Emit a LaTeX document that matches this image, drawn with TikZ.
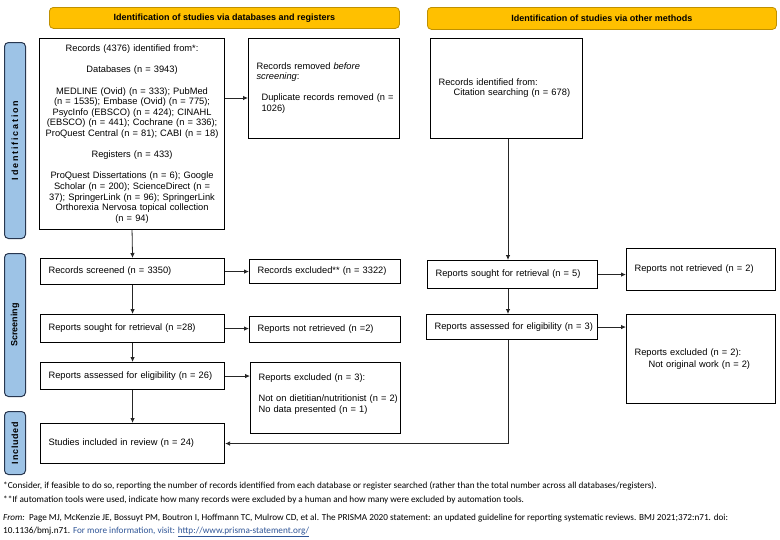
\documentclass[tikz,border=0pt]{standalone}
\usepackage{fontspec}
\setmainfont{Liberation Sans}
\newfontfamily\arialf{Liberation Sans}
\newfontfamily\arialwide[LetterSpace=20]{Liberation Sans}
\newfontfamily\arialmid[LetterSpace=8]{Liberation Sans}
\newfontfamily\calf{Carlito}
\usetikzlibrary{arrows.meta,calc}
\definecolor{gold}{RGB}{255,192,0}
\definecolor{goldline}{RGB}{191,144,0}
\definecolor{sideblue}{RGB}{157,195,230}
\definecolor{sideline}{RGB}{40,55,80}
\definecolor{linkblue}{RGB}{46,84,150}
\tikzset{
  boxnode/.style={draw=black, line width=1.1pt, anchor=north west, inner xsep=8pt, inner ysep=0pt,
    font=\arialf\fontsize{9.3}{10.6}\selectfont, align=left},
  banner/.style={draw=goldline, fill=gold, line width=0.8pt, rounded corners=4pt, anchor=north west,
    inner sep=0pt, font=\arialf\bfseries\fontsize{9}{10}\selectfont},
  sidelab/.style={draw=sideline, fill=sideblue, line width=1pt, rounded corners=4pt, anchor=north west,
    inner sep=0pt, minimum width=21pt},
  sidetext/.style={rotate=90, font=\bfseries\fontsize{9}{10}\selectfont},
  arr/.style={line width=0.8pt, draw=black!85, -{Latex[length=5pt,width=4.5pt]}},
  foot/.style={anchor=west, inner sep=0pt, font=\calf\fontsize{9.2}{10.5}\selectfont}
}
\begin{document}
\begin{tikzpicture}[x=1pt,y=-1pt]
\useasboundingbox (0,0) rectangle (780,539);
% banners
\node[banner, minimum width=350pt, minimum height=21pt] (banL) at (49,7) {Identification of studies via databases and registers};
\node[banner, minimum width=349pt, minimum height=22pt] (banR) at (427,7) {Identification of studies via other methods};
% side labels
\node[sidelab, minimum height=196pt] (sideI) at (4,42) {};
\node[sidetext] (sideIt) at (sideI.center) {\arialwide\bfseries Identification};
\node[sidelab, minimum height=143pt] (sideS) at (4,253) {};
\node[sidetext] (sideSt) at (sideS.center) {\arialf\bfseries Screening};
\node[sidelab, minimum height=63pt] (sideC) at (4,411) {};
\node[sidetext] (sideCt) at (sideC.center) {\arialmid\bfseries Included};
% left column
\node[boxnode, align=center, inner xsep=2pt, text width=181pt, minimum height=191pt] (rec) at (39,38)
 {Records (4376) identified from*:\\[10.6pt]
  Databases (n = 3943)\\[10.6pt]
  MEDLINE (Ovid) (n = 333); PubMed\\
  (n = 1535); Embase (Ovid) (n = 775);\\
  PsycInfo (EBSCO) (n = 424); CINAHL\\
  (EBSCO) (n = 441); Cochrane (n = 336);\\
  ProQuest Central (n = 81); CABI (n = 18)\\[10.6pt]
  Registers (n = 433)\\[10.6pt]
  ProQuest Dissertations (n = 6); Google\\
  Scholar (n = 200); ScienceDirect (n =\\
  37); SpringerLink (n = 96); SpringerLink\\
  Orthorexia Nervosa topical collection\\
  (n = 94)};
\node[boxnode, text width=135pt, minimum height=100pt] (removed) at (248,38)
 {\mbox{}\\[-5pt]Records removed \textit{before}\\
  \textit{screening}:\\[10.6pt]
  \hspace*{5pt}\mbox{Duplicate records removed (n =}\\
  \hspace*{5pt}1026)};
\node[boxnode, text width=168pt, minimum height=26pt] (screened) at (40,258) {\mbox{Records screened (n = 3350)}};
\node[boxnode, text width=135pt, minimum height=24pt] (excluded) at (249,259) {\mbox{Records excluded** (n = 3322)}};
\node[boxnode, text width=168pt, minimum height=28pt] (soughtL) at (40,314) {\mbox{Reports sought for retrieval (n =28)}};
\node[boxnode, text width=135pt, minimum height=26pt] (notretL) at (249,316) {\mbox{Reports not retrieved (n =2)}};
\node[boxnode, text width=168pt, minimum height=27pt] (assessL) at (40,362) {\mbox{Reports assessed for eligibility (n = 26)}};
\node[boxnode, text width=134pt, minimum height=71pt] (exclL) at (250,362)
 {Reports excluded (n = 3):\\[10.6pt]
  \mbox{Not on dietitian/nutritionist (n = 2)}\\
  No data presented (n = 1)\\\mbox{}};
\node[boxnode, text width=168pt, minimum height=40pt] (studies) at (40,423) {\mbox{Studies included in review (n = 24)}};
% right column
\node[boxnode, text width=136pt, minimum height=100pt] (other) at (430,38)
 {\mbox{}\\[-5pt]Records identified from:\\
  \hspace*{15pt}\mbox{Citation searching (n = 678)}};
\node[boxnode, text width=154pt, minimum height=28pt] (soughtR) at (427,260) {\mbox{Reports sought for retrieval (n = 5)}};
\node[boxnode, text width=133pt, minimum height=42pt] (notretR) at (626,248) {\mbox{Reports not retrieved (n = 2)}};
\node[boxnode, text width=155pt, minimum height=25pt] (assessR) at (426,314) {\mbox{Reports assessed for eligibility (n = 3)}};
\node[boxnode, text width=133pt, minimum height=89pt] (exclR) at (626,314)
 {Reports excluded (n = 2):\\[2pt]
  \hspace*{14pt}\mbox{Not original work (n = 2)}};
% connectors
\coordinate (ya) at (0,98);
\coordinate (colx) at (508,0);
\draw[arr] (rec.east |- ya) -- (removed.west |- ya);
\draw[arr] (rec.south) -- (screened.north);
\draw[arr] (screened.east) -- (excluded.west |- screened.east);
\draw[arr] (screened.south) -- (soughtL.north);
\draw[arr] (soughtL.east) -- (notretL.west |- soughtL.east);
\draw[arr] (soughtL.south) -- (assessL.north);
\draw[arr] (assessL.east) -- (exclL.west |- assessL.east);
\draw[arr] (assessL.south) -- (studies.north);
\draw[arr] (other.south -| colx) -- (soughtR.north -| colx);
\draw[arr] (soughtR.east) -- (notretR.west |- soughtR.east);
\draw[arr] (soughtR.south -| colx) -- (assessR.north -| colx);
\draw[arr] (assessR.east) -- (exclR.west |- assessR.east);
\draw[arr] (assessR.south -| colx) |- (studies.east);
% footnotes
\node[foot] (f1) at (3,486) {*Consider, if feasible to do so, reporting the number of records identified from each database or register searched (rather than the total number across all databases/registers).};
\node[foot] (f2) at (3,500) {**If automation tools were used, indicate how many records were excluded by a human and how many were excluded by automation tools.};
\node[foot] (f3) at (3,518) {\textit{From:}\ \ Page MJ, McKenzie JE, Bossuyt PM, Boutron I, Hoffmann TC, Mulrow CD, et al. The PRISMA 2020 statement: an updated guideline for reporting systematic reviews. BMJ 2021;372:n71. doi:};
\node[foot] (f4) at (3,532) {10.1136/bmj.n71. \textcolor{linkblue}{For more information, visit: \underline{http://www.prisma-statement.org/}}};
\end{tikzpicture}
\end{document}
